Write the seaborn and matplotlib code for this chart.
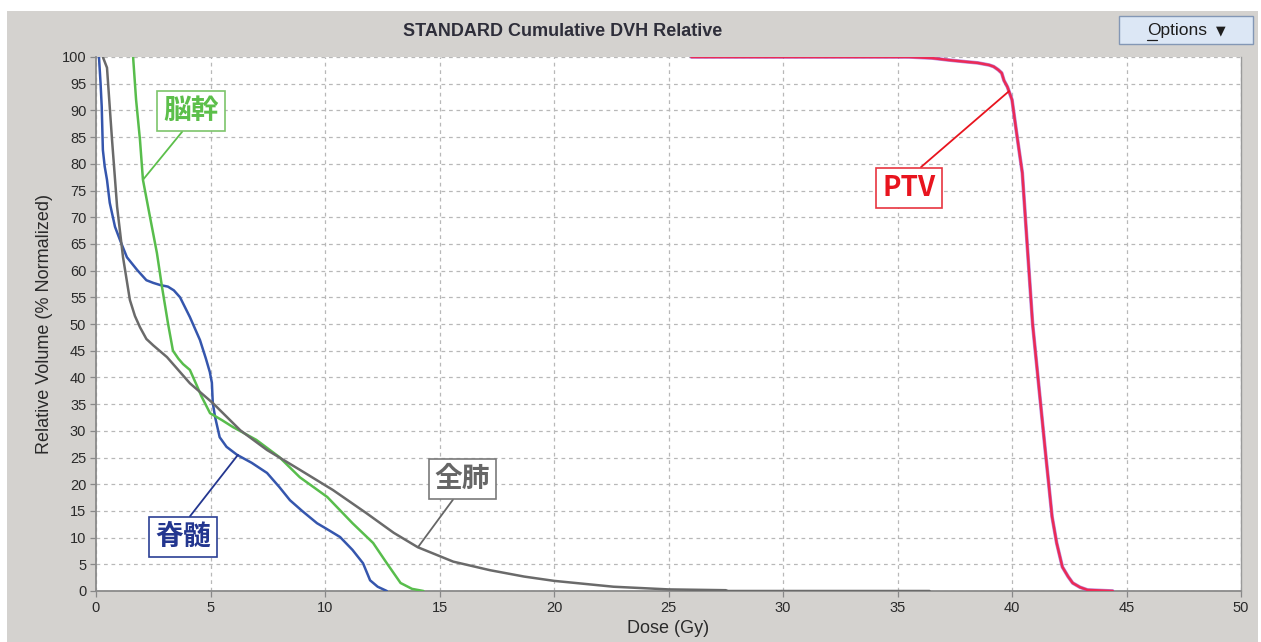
import matplotlib

matplotlib.use("Agg")

import matplotlib.pyplot as plt
import pandas as pd
import seaborn as sns
from matplotlib.patches import FancyBboxPatch, Rectangle

# cumulative DVH curves (dose in Gy, volume in %)
cord_dose = [0.13, 0.2, 0.25, 0.3, 0.38, 0.48, 0.6, 0.83, 1.05, 1.35, 1.8, 2.2, 2.5, 2.8, 3.14,
             3.4, 3.67, 4.1, 4.54, 4.8, 4.97, 5.06, 5.1, 5.2, 5.4, 5.7, 6.16, 6.8, 7.47, 8.0,
             8.47, 9.0, 9.65, 10.2, 10.66, 11.2, 11.66, 11.97, 12.3, 12.7]
cord_vol = [100, 95, 90.7, 82.6, 79.5, 77, 72.7, 68.2, 65.7, 62.5, 60.1, 58.2, 57.7, 57.3, 57,
            56.3, 55, 51.3, 47, 43.5, 41, 39, 35.2, 32.6, 28.8, 27, 25.5, 24, 22.1, 19.5,
            17, 15, 12.7, 11.3, 10.1, 7.7, 5.2, 2, 0.8, 0]

stem_dose = [1.62, 1.75, 1.92, 2.05, 2.36, 2.66, 2.88, 3.14, 3.36, 3.6, 3.8, 4.1, 4.4, 4.6,
             4.98, 5.5, 5.98, 7.0, 8.0, 8.9, 10.1, 11.2, 12.1, 12.7, 13.3, 13.8, 14.3]
stem_vol = [100, 92, 84.5, 77, 70, 63.3, 57, 50.2, 45, 43.5, 42.5, 41.4, 38.5, 36.5,
            33.3, 32, 30.7, 28.3, 25.1, 21.3, 17.6, 12.7, 9, 5.2, 1.5, 0.4, 0]

lung_dose = [0.3, 0.48, 0.7, 0.92, 1.18, 1.48, 1.7, 1.92, 2.2, 2.5, 3.1, 4.1, 5.1, 6.3, 7.47,
             8.9, 10.35, 11.8, 13.0, 14.05, 15.6, 17.2, 18.7, 20.0, 22.6, 25.0, 27.5, 27.6,
             36.4]
lung_vol = [100, 98, 84.5, 72, 62.5, 54.5, 51.5, 49.4, 47.2, 46.0, 43.8, 38.9, 35.2, 30.1,
            26.4, 22.7, 18.9, 14.6, 10.9, 8.2, 5.5, 3.9, 2.7, 1.9, 0.8, 0.3, 0.15, 0, 0]

ptv_dose = [26.0, 30.0, 35.0, 35.5, 36.5, 37.3, 38.0, 38.5, 39.0, 39.2, 39.4, 39.55, 39.65,
            39.8, 40.0, 40.2, 40.45, 40.65, 40.9, 41.45, 41.6, 41.75, 41.95, 42.2, 42.45,
            42.65, 42.97, 43.3, 44.4]
ptv_vol = [100, 100, 100, 100, 99.8, 99.4, 99.1, 98.9, 98.5, 98.2, 97.6, 97.0, 95.6,
           94.4, 92.0, 85.8, 78.3, 65.7, 50, 26.4, 20.2, 13.9, 9, 4.5, 2.7,
           1.5, 0.7, 0.2, 0]

x_ticks = list(range(0, 51, 5))
y_ticks = list(range(0, 101, 5))

W, H = 1261, 642


def fx(px):
    return px / W


def fy(py):
    return 1 - py / H


sns.set_theme(style="white")
plt.rcParams["font.family"] = ["Liberation Sans", "DejaVu Sans"]
CJK = ["Noto Sans CJK JP", "DejaVu Sans"]

fig = plt.figure(figsize=(W / 100, H / 100), dpi=100, facecolor="white")
fig.patches.append(Rectangle((fx(7), 0), fx(1258 - 7), fy(11), transform=fig.transFigure,
                             facecolor="#d4d2cf", edgecolor="none", zorder=-10))

ax = fig.add_axes([fx(96), fy(591), fx(1241 - 96), (591 - 57) / H])
ax.set_facecolor("white")

curves = pd.DataFrame({
    "dose": cord_dose + stem_dose + lung_dose,
    "vol": cord_vol + stem_vol + lung_vol,
    "roi": ["cord"] * len(cord_dose) + ["stem"] * len(stem_dose) + ["lung"] * len(lung_dose),
})
palette = {"cord": "#3556ad", "stem": "#58bd4c", "lung": "#6a6a6a"}
sns.lineplot(data=curves, x="dose", y="vol", hue="roi", palette=palette, sort=False,
             estimator=None, linewidth=1.8, legend=False, ax=ax, zorder=3)
sns.lineplot(x=ptv_dose, y=ptv_vol, sort=False, estimator=None, color="#9a5ad0",
             linewidth=2.6, alpha=0.7, ax=ax, zorder=3)
sns.lineplot(x=ptv_dose, y=ptv_vol, sort=False, estimator=None, color="#ec2a55",
             linewidth=1.8, ax=ax, zorder=4)

ax.set_xlim(0, 50)
ax.set_ylim(0, 100)
ax.set_xticks(x_ticks)
ax.set_yticks(y_ticks)
ax.grid(True, color="#b8b8b8", linestyle=(0, (3, 3)), linewidth=0.9)
ax.tick_params(direction="out", length=4, width=0.9, color="#888888", labelsize=10.5,
               labelcolor="#2a2a2a", pad=3, bottom=True, left=True)
for side in ["left", "bottom"]:
    ax.spines[side].set_color("#8a8a8a")
    ax.spines[side].set_linewidth(1.3)
ax.spines["right"].set_color("#9a9a9a")
ax.spines["right"].set_linewidth(1.0)
ax.spines["top"].set_visible(False)
ax.set_xlabel("Dose (Gy)", fontsize=13, color="#2a2a2a", labelpad=4)
ax.set_ylabel("Relative Volume (% Normalized)", fontsize=13, color="#2a2a2a", labelpad=6)

labels = [
    ("脳幹", (2.05, 77), (4.15, 89.9), "#5cbf4a", "#7dc56b", (0.44, 0)),
    ("脊髄", (6.2, 25.5), (3.8, 10.1), "#23368f", "#2b3f95", (0.53, 1)),
    ("全肺", (14.06, 8.2), (16.0, 21.0), "#666666", "#7a7a7a", (0.42, 0)),
    ("PTV", (39.87, 93.6), (35.5, 75.5), "#e8141e", "#e8353f", (0.58, 1)),
]
for text, target, pos, color, edge, rel in labels:
    ax.annotate(text, xy=target, xytext=pos, ha="center", va="center", fontsize=20,
                fontweight="bold", color=color, family=CJK, zorder=6,
                bbox=dict(boxstyle="square,pad=0.22", facecolor="white", edgecolor=edge,
                          linewidth=1.2),
                arrowprops=dict(arrowstyle="-", color=color, linewidth=1.3, relpos=rel,
                                shrinkA=0, shrinkB=0))

fig.text(fx(563), fy(31), "STANDARD Cumulative DVH Relative", ha="center", va="center",
         fontsize=13, fontweight="bold", color="#2e2e3a")

fig.patches.append(FancyBboxPatch((fx(1119), fy(44)), fx(1253 - 1119), (44 - 16) / H,
                                  boxstyle="square,pad=0", transform=fig.transFigure,
                                  facecolor="#dce7f5", edgecolor="#8397b5", linewidth=1.0,
                                  zorder=1))
fig.text(fx(1177), fy(31), "Options", ha="center", va="center", fontsize=12.5,
         color="#1e1e1e")
fig.text(fx(1221), fy(31), "▼", ha="center", va="center", fontsize=9, color="#1e1e1e",
         family=["DejaVu Sans"])
fig.lines.append(plt.Line2D([fx(1147), fx(1157)], [fy(40), fy(40)], transform=fig.transFigure,
                            color="#1e1e1e", linewidth=0.9))

fig.savefig("out.png", dpi=100, facecolor="white")
